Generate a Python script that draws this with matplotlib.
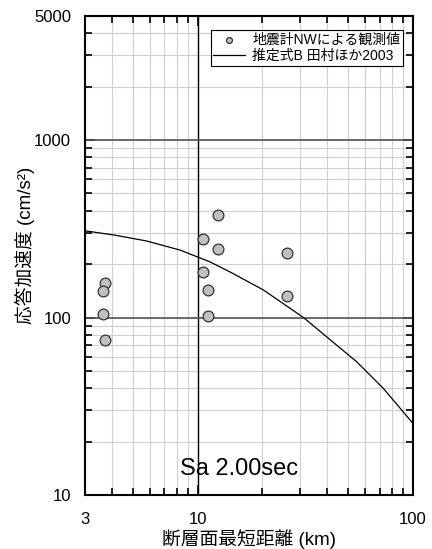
import numpy as np
import matplotlib.pyplot as plt
from matplotlib.ticker import FixedLocator, NullFormatter, LogLocator

plt.rcParams['font.family'] = ['Liberation Sans', 'Noto Sans CJK JP', 'DejaVu Sans']

# observed values (distance km, Sa cm/s^2)
obs_dist = [3.72, 3.62, 3.62, 3.73, 10.55, 12.4, 12.4, 10.55, 11.2, 11.2, 25.9, 25.9]
obs_sa = [157, 141, 105, 74.6, 276, 379, 243, 181, 143, 102, 230, 132]

# estimated curve (Tamura et al. 2003, eq. B)
est_dist = [3.0, 4.07, 5.79, 8.28, 11.4, 14.1, 20.2, 31.0, 39.7, 54.7, 72.8, 100.0]
est_sa = [308, 292, 270, 240, 206, 181, 143, 100, 77.9, 56.4, 39.9, 25.3]

fig = plt.figure(figsize=(4.32, 5.49), dpi=100)
ax = fig.add_axes([85/432, 1-495/549, 328/432, 479/549])

ax.set_xscale('log')
ax.set_yscale('log')
ax.set_xlim(3, 100)
ax.set_ylim(10, 5000)

ax.grid(which='both', color='#cfcfcf', lw=0.8)
ax.axvline(10, color='black', lw=1.0, zorder=2)
ax.axhline(100, color='#555555', lw=1.2, zorder=2)
ax.axhline(1000, color='#555555', lw=1.2, zorder=2)

ax.plot(est_dist, est_sa, color='black', lw=0.9, label='推定式B 田村ほか2003', zorder=3)
ax.scatter(obs_dist, obs_sa, s=60, facecolor='#c0c0c0', edgecolor='#333333',
           lw=0.9, label='地震計NWによる観測値', zorder=4)

ax.xaxis.set_major_locator(FixedLocator([3, 10, 100]))
ax.xaxis.set_minor_locator(LogLocator(subs=np.arange(2, 10)))
ax.xaxis.set_minor_formatter(NullFormatter())
ax.set_xticklabels(['3', '10', '100'])
ax.yaxis.set_major_locator(FixedLocator([10, 100, 1000, 5000]))
ax.yaxis.set_minor_locator(LogLocator(subs=np.arange(2, 10)))
ax.yaxis.set_minor_formatter(NullFormatter())
ax.set_yticklabels(['10', '100', '1000', '5000'])

ax.tick_params(which='both', direction='in', top=True, right=True, labelsize=12, width=1.2)
ax.tick_params(which='major', length=7)
ax.tick_params(axis='x', which='major', pad=12)
ax.tick_params(axis='y', which='major', pad=10)
ax.tick_params(which='minor', length=5)
for s in ax.spines.values():
    s.set_linewidth(1.5)

ax.set_xlabel('断層面最短距離 (km)', fontsize=13.5, labelpad=2)
ax.set_ylabel('応答加速度 (cm/s²)', fontsize=13.5)
ax.yaxis.set_label_coords(-0.152, 0.522)

ax.text(15.6, 14.0, 'Sa 2.00sec', fontsize=17, ha='center', va='center')

h, l = ax.get_legend_handles_labels()
leg = ax.legend(h[::-1], l[::-1], loc='upper right', fontsize=10, frameon=True,
                fancybox=False, edgecolor='black', framealpha=1,
                borderpad=0.2, handlelength=2.3, handletextpad=0.5,
                labelspacing=0.15, markerscale=0.55, borderaxespad=0,
                bbox_to_anchor=(0.970, 0.971))
leg.get_frame().set_linewidth(0.8)

fig.savefig('out.png', dpi=100)
